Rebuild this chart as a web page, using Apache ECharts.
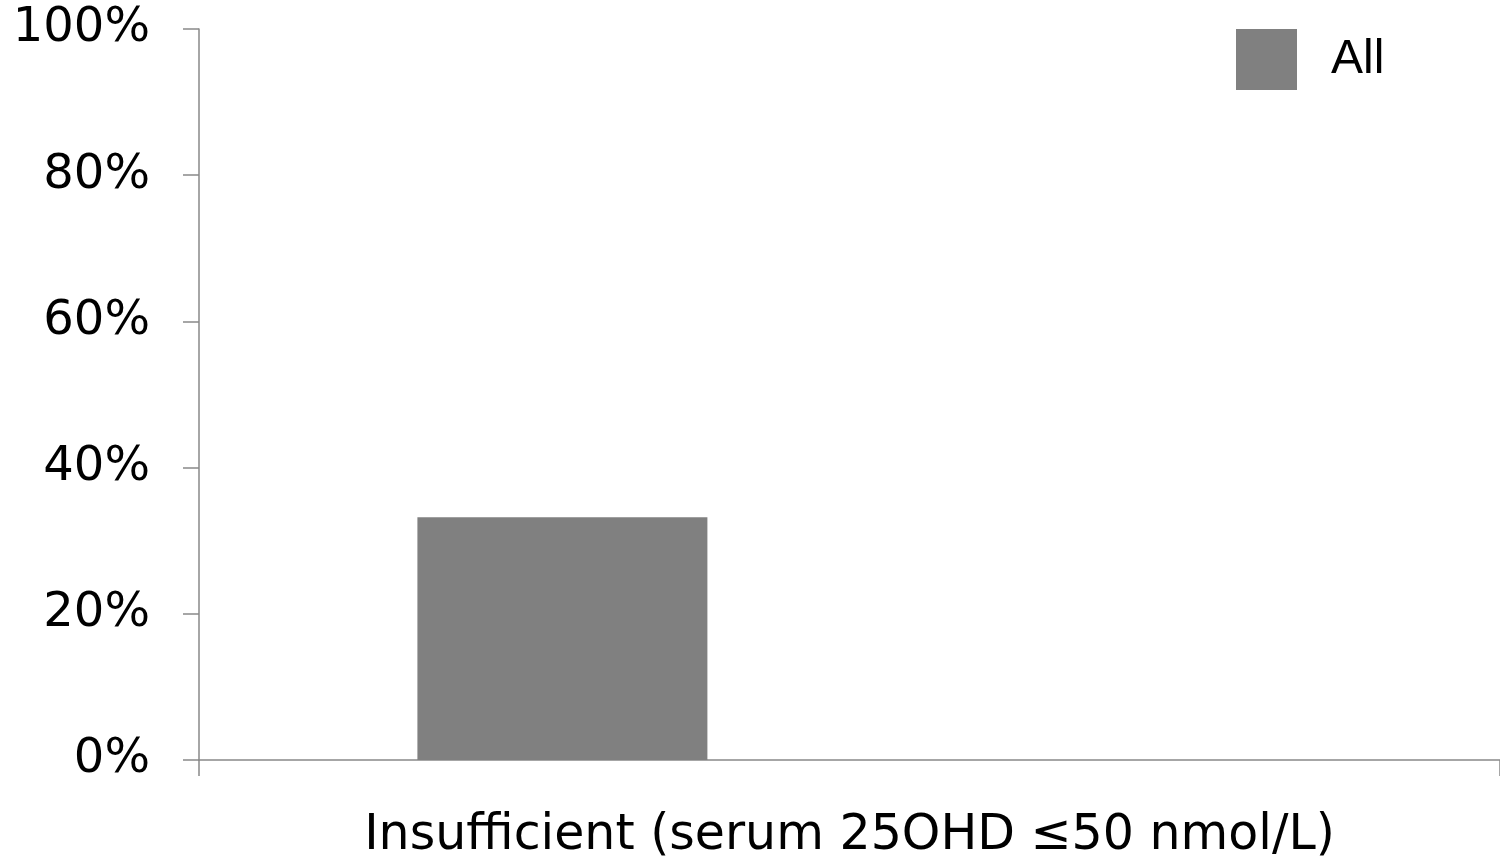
<!DOCTYPE html>
<html>
<head>
<meta charset="utf-8">
<style>
  html, body { margin: 0; padding: 0; background: #ffffff; }
  #chart { width: 1500px; height: 863px; }
</style>
<script src="https://cdn.jsdelivr.net/npm/echarts@6/dist/echarts.min.js"></script>
</head>
<body>
<div id="chart"></div>
<script>
const categories = ['Insufficient (serum 25OHD \u226450 nmol/L)'];
const seriesNames = ['All'];
const allValues = [33.2];
const placeholderValues = [null];
const yTicks = { min: 0, max: 100, interval: 20 };

const chart = echarts.init(document.getElementById('chart'));
chart.setOption({
  animation: false,
  backgroundColor: '#ffffff',
  grid: { left: 199, width: 1304, top: 29, bottom: 103, containLabel: false },
  legend: {
    data: seriesNames,
    left: 1236,
    top: 29,
    padding: 0,
    itemWidth: 61,
    itemHeight: 61,
    icon: 'rect',
    textStyle: { fontFamily: 'Liberation Sans', fontSize: 48, color: '#000000', padding: [0, 0, 0, 29] },
    selectedMode: false
  },
  xAxis: {
    type: 'category',
    data: categories,
    axisLine: { lineStyle: { color: '#898989', width: 1.5 } },
    axisTick: { show: true, length: 16, lineStyle: { color: '#898989', width: 1.5 } },
    axisLabel: { fontFamily: 'DejaVu Sans', fontSize: 49, color: '#000000', margin: 52 }
  },
  yAxis: {
    type: 'value',
    min: yTicks.min,
    max: yTicks.max,
    interval: yTicks.interval,
    splitLine: { show: false },
    axisLine: { show: true, lineStyle: { color: '#898989', width: 1.5 } },
    axisTick: { show: true, length: 16, lineStyle: { color: '#898989', width: 1.5 } },
    axisLabel: { fontFamily: 'DejaVu Sans', fontSize: 48, color: '#000000', margin: 49, padding: [6, 0, 0, 0], formatter: '{value}%' }
  },
  series: [
    {
      name: seriesNames[0],
      type: 'bar',
      data: allValues,
      barWidth: 290,
      barGap: '98%',
      itemStyle: { color: '#808080' }
    },
    {
      name: 'placeholder',
      type: 'bar',
      data: placeholderValues,
      barWidth: 290,
      itemStyle: { color: '#808080' }
    }
  ]
});
</script>
</body>
</html>
